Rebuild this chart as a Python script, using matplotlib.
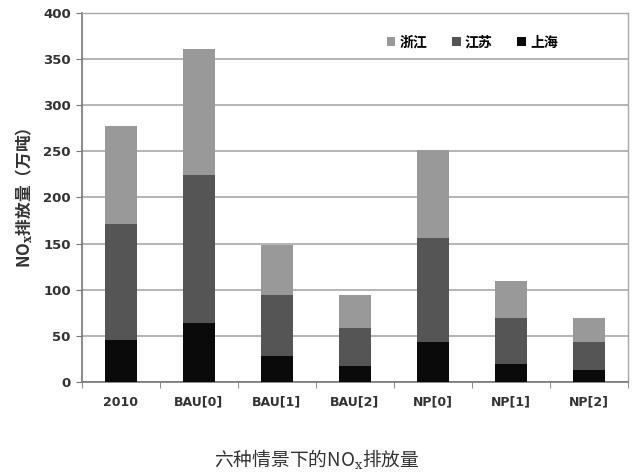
import numpy as np
import matplotlib
matplotlib.use("Agg")
import matplotlib.pyplot as plt

plt.rcParams['font.family'] = ['Noto Sans CJK SC', 'DejaVu Sans']
plt.rcParams['mathtext.fontset'] = 'dejavuserif'

categories = ["2010", "BAU[0]", "BAU[1]", "BAU[2]", "NP[0]", "NP[1]", "NP[2]"]
shanghai = [45, 64, 28, 17, 43, 20, 13]
jiangsu = [126, 160, 66, 41, 113, 49, 30]
zhejiang = [107, 137, 54, 36, 96, 40, 26]

fig = plt.figure(figsize=(6.34, 4.76), dpi=100)
ax = fig.add_axes([0.1293, 0.1975, 0.8612, 0.7752])

x = np.arange(len(categories))
w = 0.4
sh = np.array(shanghai)
js = np.array(jiangsu)
zj = np.array(zhejiang)

b_sh = ax.bar(x, sh, w, color="#0a0a0a", label="上海", zorder=3)
b_js = ax.bar(x, js, w, bottom=sh, color="#555555", label="江苏", zorder=3)
b_zj = ax.bar(x, zj, w, bottom=sh + js, color="#999999", label="浙江", zorder=3)

ax.set_xlim(-0.5, len(categories) - 0.5)
ax.set_ylim(0, 400)
ax.set_yticks(np.arange(0, 401, 50))
ax.yaxis.grid(True, color="#a8a8a8", linewidth=1.2, zorder=0)

ax.set_xticks(x)
ax.set_xticklabels(categories, fontsize=9, fontweight="bold", color="#333333",
                   family=["DejaVu Sans"])
ax.set_xticks(np.arange(-0.5, len(categories)), minor=True)
ax.tick_params(axis="x", which="major", length=0, pad=10)
ax.tick_params(axis="x", which="minor", length=4, color="#777777")
ax.tick_params(axis="y", length=4, color="#777777", labelsize=9.5, pad=4)
for lbl in ax.get_yticklabels():
    lbl.set_fontweight("bold")
    lbl.set_color("#333333")
    lbl.set_family(["DejaVu Sans"])

for side in ["left", "bottom"]:
    ax.spines[side].set_color("#777777")
    ax.spines[side].set_linewidth(1.2)
for side in ["top", "right"]:
    ax.spines[side].set_color("#a8a8a8")
    ax.spines[side].set_linewidth(1.0)

ax.set_ylabel(r"NO$_\mathbf{x}$排放量（万吨）", fontsize=12, fontweight="bold",
              color="#333333", labelpad=6)

ax.legend(handles=[b_zj, b_js, b_sh], loc="center", bbox_to_anchor=(0.715, 0.92),
          ncol=3, frameon=False, handlelength=0.6, handleheight=0.6,
          handletextpad=0.3, columnspacing=1.8,
          prop={"weight": "bold", "size": 10})

fig.text(0.5, 0.035, r"六种情景下的NO$_\mathrm{x}$排放量", ha="center", va="center",
         fontsize=13.5, color="#333333")

fig.savefig("out.png", dpi=100)
